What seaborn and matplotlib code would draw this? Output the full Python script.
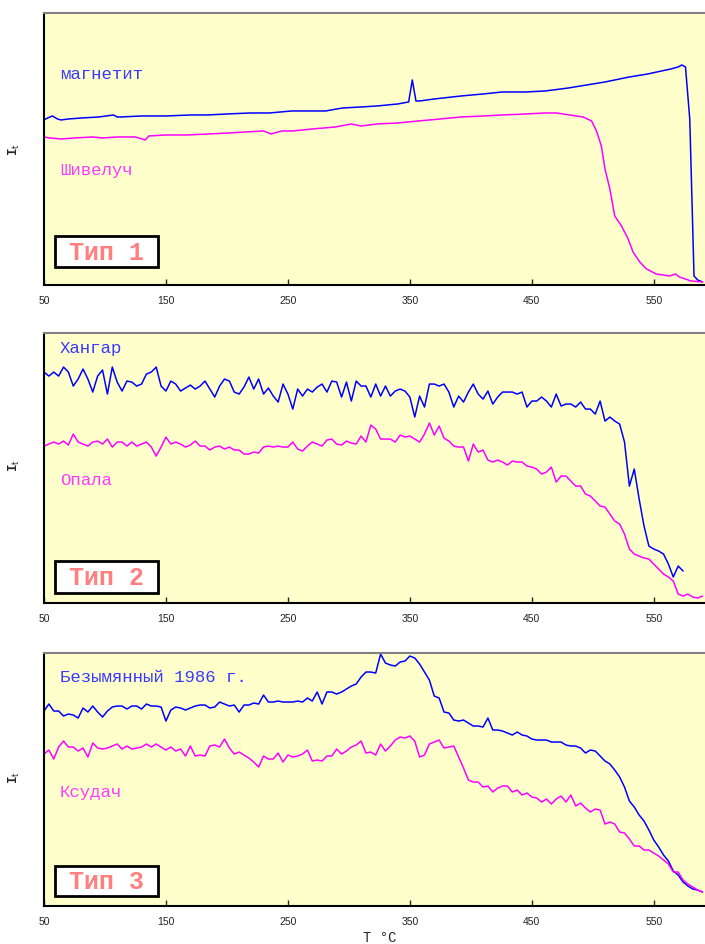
import matplotlib
matplotlib.use("Agg")
import matplotlib.pyplot as plt
import seaborn as sns
from matplotlib.patches import Rectangle

# temperature grid of the noisy records, deg C
temp_grid = [50, 54, 58, 62, 66, 70, 74, 78, 82, 86,
             90, 94, 98, 102, 106, 110, 114, 118, 122, 126,
             130, 134, 138, 142, 146, 150, 154, 158, 162, 166,
             170, 174, 178, 182, 186, 190, 194, 198, 202, 206,
             210, 214, 218, 222, 226, 230, 234, 238, 242, 246,
             250, 254, 258, 262, 266, 270, 274, 278, 282, 286,
             290, 294, 298, 302, 306, 310, 314, 318, 322, 326,
             330, 334, 338, 342, 346, 350, 354, 358, 362, 366,
             370, 374, 378, 382, 386, 390, 394, 398, 402, 406,
             410, 414, 418, 422, 426, 430, 434, 438, 442, 446,
             450, 454, 458, 462, 466, 470, 474, 478, 482, 486,
             490, 494, 498, 502, 506, 510, 514, 518, 522, 526,
             530, 534, 538, 542, 546, 550, 554, 558, 562, 566,
             570, 574, 578, 582, 586, 590]

# --- Тип 1 ---
t_magnetite = [50, 53, 57, 61, 64, 70, 81, 95, 107, 110,
               113, 130, 150, 170, 184, 200, 219, 235, 253, 270,
               281, 290, 295, 310, 323, 340, 349, 352, 355, 358,
               370, 392, 410, 426, 445, 461, 480, 495, 510, 530,
               545, 564, 570, 573, 576, 579.5, 583, 586, 590]
i_magnetite = [165, 167, 169, 166, 165, 166, 167, 168, 170, 168,
               168, 169, 169, 170, 170, 171, 172, 172, 174, 174,
               174, 176, 177, 178, 179, 181, 183, 205, 184, 184,
               186, 189, 191, 193, 193, 194, 197, 200, 203, 208,
               211, 216, 218, 220, 218, 166, 9, 5, 3]

t_shiveluch = [50, 55, 64, 75, 90, 98, 110, 125, 133, 136,
               150, 167, 185, 202, 215, 230, 236, 245, 254, 270,
               289, 302, 310, 323, 340, 357, 375, 392, 410, 426,
               445, 461, 470, 481, 492, 499, 503, 507, 510, 514,
               518, 523.5, 529, 533, 538.5, 544, 552, 563, 568, 571,
               580.5, 590]
i_shiveluch = [148, 147, 146, 147, 148, 147, 148, 148, 145, 149,
               150, 150, 151, 152, 153, 154, 151, 154, 154, 156,
               158, 161, 159, 161, 162, 164, 166, 168, 169, 170,
               171, 172, 172, 170, 168, 164, 154, 139, 116, 96,
               69, 59, 46, 33, 23, 16, 11, 9, 11, 8,
               4, 3]

# --- Тип 2 --- (Хангар stops at 574 C)
i_hangar = [231, 227, 231, 227, 236, 231, 217, 224, 234, 224,
            211, 227, 233, 209, 236, 221, 212, 222, 221, 217,
            219, 229, 231, 236, 217, 212, 222, 219, 212, 215,
            218, 214, 217, 222, 214, 206, 217, 224, 222, 211,
            209, 216, 226, 214, 224, 209, 215, 207, 201, 219,
            209, 194, 214, 207, 214, 211, 216, 219, 211, 222,
            221, 206, 221, 202, 222, 217, 217, 206, 219, 207,
            217, 207, 212, 214, 212, 206, 186, 207, 196, 219,
            219, 217, 219, 211, 196, 207, 201, 211, 219, 209,
            204, 212, 199, 206, 211, 211, 211, 209, 211, 196,
            202, 202, 206, 202, 196, 209, 197, 199, 199, 196,
            201, 194, 194, 189, 202, 182, 186, 182, 179, 161,
            117, 134, 104, 77, 57, 54, 52, 49, 39, 26,
            37, 32]
i_opala = [157, 159, 161, 159, 162, 158, 169, 161, 159, 157,
           161, 162, 159, 164, 156, 161, 161, 157, 161, 157,
           159, 161, 156, 147, 156, 166, 159, 161, 159, 156,
           158, 162, 157, 157, 153, 156, 157, 154, 156, 153,
           153, 149, 149, 151, 150, 156, 157, 156, 157, 156,
           156, 161, 154, 152, 157, 161, 159, 157, 163, 164,
           159, 158, 162, 160, 159, 167, 161, 178, 174, 164,
           164, 164, 161, 168, 166, 167, 164, 161, 169, 180,
           168, 177, 165, 162, 157, 156, 156, 142, 159, 151,
           153, 143, 141, 143, 141, 138, 142, 141, 141, 137,
           136, 134, 129, 131, 136, 121, 127, 127, 122, 117,
           117, 109, 107, 102, 97, 96, 89, 82, 79, 69,
           54, 49, 47, 45, 44, 39, 34, 29, 26, 22,
           9, 7, 9, 6, 5, 7]

# --- Тип 3 ---
i_bezymyanny = [195, 202, 195, 195, 190, 192, 191, 188, 198, 194,
                200, 194, 189, 195, 199, 200, 200, 197, 200, 200,
                197, 202, 200, 200, 199, 185, 196, 199, 198, 196,
                198, 200, 201, 201, 198, 199, 204, 202, 200, 201,
                194, 201, 201, 203, 202, 211, 204, 204, 205, 204,
                204, 204, 205, 204, 208, 205, 214, 202, 214, 214,
                212, 214, 217, 220, 222, 229, 234, 234, 233, 252,
                243, 241, 240, 244, 245, 250, 248, 242, 234, 226,
                210, 208, 194, 193, 186, 185, 186, 183, 180, 180,
                179, 188, 176, 176, 175, 173, 171, 174, 171, 170,
                167, 166, 166, 166, 164, 164, 164, 161, 160, 160,
                158, 153, 156, 155, 150, 145, 142, 136, 129, 119,
                105, 99, 91, 85, 76, 66, 59, 51, 45, 35,
                31, 24, 20, 17, 16, 14]
i_ksudach = [152, 156, 147, 159, 165, 159, 159, 155, 158, 149,
             163, 158, 157, 158, 160, 162, 157, 160, 157, 158,
             159, 162, 159, 162, 159, 156, 159, 155, 157, 150,
             160, 150, 151, 150, 160, 161, 159, 167, 158, 152,
             154, 151, 148, 144, 139, 150, 147, 147, 153, 144,
             151, 149, 150, 152, 156, 145, 146, 145, 150, 150,
             157, 152, 155, 159, 161, 165, 153, 154, 151, 162,
             155, 160, 166, 169, 168, 170, 165, 149, 151, 162,
             164, 166, 158, 159, 160, 149, 138, 126, 124, 124,
             119, 120, 114, 118, 120, 120, 114, 116, 111, 113,
             109, 108, 104, 107, 102, 107, 110, 104, 111, 100,
             103, 98, 94, 97, 96, 82, 84, 82, 74, 73,
             67, 60, 60, 56, 56, 53, 50, 46, 42, 34,
             34, 26, 22, 19, 16, 14]

tick_values = [50, 150, 250, 350, 450, 550]
type_labels = ["Тип 1", "Тип 2", "Тип 3"]
upper_names = ["магнетит", "Хангар", "Безымянный 1986 г."]
lower_names = ["Шивелуч", "Опала", "Ксудач"]

BLUE = "#0000ff"
MAGENTA = "#ff00ff"
MONO = ["Liberation Mono", "DejaVu Sans Mono"]

sns.set_style("white")
plt.rcParams["font.family"] = ["Liberation Sans", "DejaVu Sans"]

fig = plt.figure(figsize=(7.05, 9.45), dpi=100)

# axes rectangles in figure fractions (left, bottom, width, height)
rects = [(0.0624, 0.6974, 0.9376, 0.2878),
         (0.0624, 0.3608, 0.9376, 0.2857),
         (0.0624, 0.0402, 0.9376, 0.2677)]
ylims = [272, 270, 253]
upper_y = [0.776, 0.948, 0.909]
lower_y = [0.423, 0.456, 0.451]
box_y = [(0.066, 0.114), (0.037, 0.119), (0.040, 0.118)]
ylabel_y = [(945 - 150) / 945, (945 - 466) / 945, (945 - 778) / 945]

series = [
    [(t_magnetite, i_magnetite, BLUE), (t_shiveluch, i_shiveluch, MAGENTA)],
    [(temp_grid[:len(i_hangar)], i_hangar, BLUE), (temp_grid, i_opala, MAGENTA)],
    [(temp_grid, i_bezymyanny, BLUE), (temp_grid, i_ksudach, MAGENTA)],
]

for k in range(3):
    ax = fig.add_axes(rects[k])
    ax.set_facecolor("#ffffcc")
    for x, y, c in series[k]:
        sns.lineplot(x=x, y=y, color=c, linewidth=1.1, estimator=None,
                     sort=False, ax=ax)
    ax.set_xlim(50, 592)
    ax.set_ylim(0, ylims[k])
    ax.set_yticks([])
    ax.set_xticks(tick_values)
    ax.set_xticklabels([str(v) for v in tick_values], fontsize=7.5,
                       color="#222222")
    ax.tick_params(axis="x", direction="in", length=4, width=1,
                   pad=7, bottom=True)
    ax.set_xlabel("")
    ax.set_ylabel("")
    ax.spines["right"].set_visible(False)
    ax.spines["left"].set_color("black")
    ax.spines["left"].set_linewidth(1.5)
    ax.spines["bottom"].set_color("black")
    ax.spines["bottom"].set_linewidth(1.5)
    ax.spines["top"].set_color("#808080")
    ax.spines["top"].set_linewidth(1.5)

    ax.text(0.024, upper_y[k], upper_names[k], transform=ax.transAxes,
            color="#3a3aff", fontsize=12.5, family=MONO, va="center")
    ax.text(0.024, lower_y[k], lower_names[k], transform=ax.transAxes,
            color="#ff3aff", fontsize=12.5, family=MONO, va="center")

    y0, h = box_y[k]
    ax.add_patch(Rectangle((0.017, y0), 0.156, h, transform=ax.transAxes,
                           facecolor="white", edgecolor="black",
                           linewidth=2, zorder=5))
    ax.text(0.095, y0 + h / 2, type_labels[k], transform=ax.transAxes,
            color="#ff7f7f", fontsize=18, fontweight="bold", family=MONO,
            ha="center", va="center", zorder=6)

    fig.text(14 / 705, ylabel_y[k], r"I$_\mathrm{t}$", rotation=90,
             fontsize=9, fontweight="bold", family=MONO,
             ha="center", va="center")

fig.text(380 / 705, 1 - 938 / 945, "T °C", fontsize=10, family=MONO,
         ha="center", va="center")

fig.savefig("out.png", dpi=100)
